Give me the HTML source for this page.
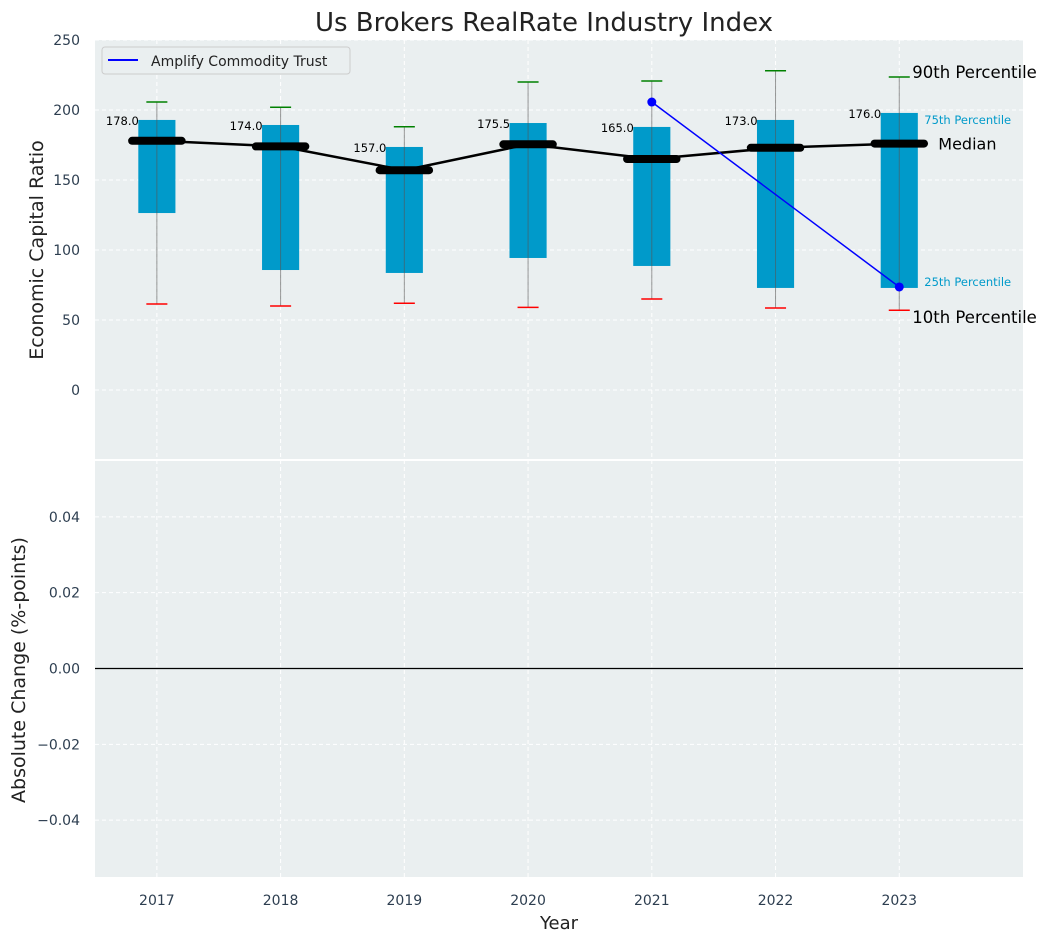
<!DOCTYPE html>
<html><head><meta charset="utf-8"><style>
html,body{margin:0;padding:0;background:#fff;}
svg text{font-family:"DejaVu Sans","Liberation Sans",sans-serif;}
</style></head><body>
<svg id="c" width="1049" height="942" xmlns="http://www.w3.org/2000/svg"></svg>
<script>
const years=[2017,2018,2019,2020,2021,2022,2023];
const p10=[61.4,60,62,59,65,58.6,57];
const p25=[126.4,85.7,83.6,94.3,88.6,72.9,72.9];
const medians=[178,174,157,175.5,165,173,176];
const p75=[192.9,189.3,173.6,190.7,187.9,192.9,197.9];
const p90=[205.7,202,188,220,220.7,228,223.6];
const medianLabels=["178.0","174.0","157.0","175.5","165.0","173.0","176.0"];
const companyYears=[2021,2023];
const companyValues=[205.7,73.6];
const topTicks=[0,50,100,150,200,250];
const bottomTicks=[-0.04,-0.02,0,0.02,0.04];
const bottomTickLabels=["\u22120.04","\u22120.02","0.00","0.02","0.04"];

const NS="http://www.w3.org/2000/svg";
const svg=document.getElementById('c');
function el(t,a,p){const e=document.createElementNS(NS,t);for(const k in a)e.setAttribute(k,a[k]);(p||svg).appendChild(e);return e;}
const L=95,R=1023,T1=40,B1=460,T2=460,B2=877;
const x=v=>L+(v-2016.5)/(2024-2016.5)*(R-L);
const y1=v=>B1-(v+50)/300*(B1-T1);
const y2=v=>B2-(v+0.055)/0.11*(B2-T2);

let bg=el('rect',{x:L,y:T1,width:R-L,height:B1-T1,fill:'#eaeff0'});

let bg2=el('rect',{x:L,y:T2,width:R-L,height:B2-T2,fill:'#eaeff0'});

el('line',{x1:L,x2:R,y1:460,y2:460,stroke:'#fff','stroke-width':2});

years.forEach(v=>{
 el('line',{x1:x(v),x2:x(v),y1:T1,y2:B1,stroke:'#fff','stroke-dasharray':'4,3','stroke-width':1});
 el('line',{x1:x(v),x2:x(v),y1:T2,y2:B2,stroke:'#fff','stroke-dasharray':'4,3','stroke-width':1});
 const t=el('text',{x:x(v),y:905,'text-anchor':'middle','font-size':14,fill:'#2d3e50'});t.textContent=v;
 
});
topTicks.forEach(v=>{
 el('line',{x1:L,x2:R,y1:y1(v),y2:y1(v),stroke:'#fff','stroke-dasharray':'4,3'});
 const t=el('text',{x:80,y:y1(v)+5,'text-anchor':'end','font-size':14,fill:'#2d3e50'});t.textContent=v;
 
});
bottomTicks.forEach((v,i)=>{
 el('line',{x1:L,x2:R,y1:y2(v),y2:y2(v),stroke:v===0?'#000':'#fff','stroke-dasharray':v===0?'':'4,3','stroke-width':v===0?1.2:1});
 const t=el('text',{x:80,y:y2(v)+5,'text-anchor':'end','font-size':14,fill:'#2d3e50'});t.textContent=bottomTickLabels[i];
 
});

const bw=x(0.15)-x(0), cw=x(0.085)-x(0), mw=x(0.2)-x(0);
years.forEach((v,i)=>{
 const cx=x(v);
 const b=el('rect',{x:cx-bw,y:y1(p75[i]),width:2*bw,height:y1(p25[i])-y1(p75[i]),fill:'#009aca'});
 
 el('line',{x1:cx,x2:cx,y1:y1(p90[i]),y2:y1(p10[i]),stroke:'#555','stroke-opacity':0.6,'stroke-width':1});
 el('line',{x1:cx-cw,x2:cx+cw,y1:y1(p90[i]),y2:y1(p90[i]),stroke:'green','stroke-width':1.5});
 el('line',{x1:cx-cw,x2:cx+cw,y1:y1(p10[i]),y2:y1(p10[i]),stroke:'red','stroke-width':1.5});
});
let pts=years.map((v,i)=>x(v)+','+y1(medians[i])).join(' ');
const ml=el('polyline',{points:pts,fill:'none',stroke:'#000','stroke-width':2.5});

years.forEach((v,i)=>{
 const cx=x(v);
 const m=el('line',{x1:cx-mw,x2:cx+mw,y1:y1(medians[i]),y2:y1(medians[i]),stroke:'#000','stroke-width':8,'stroke-linecap':'round'});
 
 const t=el('text',{x:cx-18,y:y1(p75[i])+5,'text-anchor':'end','font-size':11.5,fill:'#000'});t.textContent=medianLabels[i];
 
});
const cl=el('polyline',{points:companyYears.map((v,i)=>x(v)+','+y1(companyValues[i])).join(' '),fill:'none',stroke:'#0000ff','stroke-width':1.5});

companyYears.forEach((v,i)=>{const c=el('circle',{cx:x(v),cy:y1(companyValues[i]),r:4.5,fill:'#0000ff'});
 });

const last=years.length-1, lx=x(years[last]);
function lab(t,xx,yy,s,f,n){const e=el('text',{x:xx,y:yy,'font-size':s,fill:f});e.textContent=t;return e;}
lab('90th Percentile',lx+13,y1(p90[last])+1,16.5,'#000','p90-label');
lab('75th Percentile',lx+25,y1(p75[last])+11,11.5,'#009aca','p75-label');
lab('Median',lx+39,y1(medians[last])+6,16,'#000','median-annotation');
lab('25th Percentile',lx+25,y1(p25[last])-2,11.5,'#009aca','p25-label');
lab('10th Percentile',lx+13,y1(p10[last])+13,16.5,'#000','p10-label');

const lg=el('g',{});
el('rect',{x:102,y:47,width:248,height:27,rx:3,fill:'#eaeff0',stroke:'#ccc'},lg);
el('line',{x1:108,x2:138,y1:60,y2:60,stroke:'#0000ff','stroke-width':2},lg);
const lt=el('text',{x:151,y:66,'font-size':14,fill:'#222'},lg);lt.textContent='Amplify Commodity Trust';


const tt=lab('Us Brokers RealRate Industry Index',544,31,26,'#222','chart-title');tt.setAttribute('text-anchor','middle');
const xt=lab('Year',559,929,18,'#222','x-axis-title');xt.setAttribute('text-anchor','middle');
const ya=el('text',{x:0,y:0,'font-size':19,fill:'#222','text-anchor':'middle',transform:'translate(43,250) rotate(-90)'});ya.textContent='Economic Capital Ratio';

const yb=el('text',{x:0,y:0,'font-size':19,fill:'#222','text-anchor':'middle',transform:'translate(25,670) rotate(-90)'});yb.textContent='Absolute Change (%-points)';

</script>
</body></html>
